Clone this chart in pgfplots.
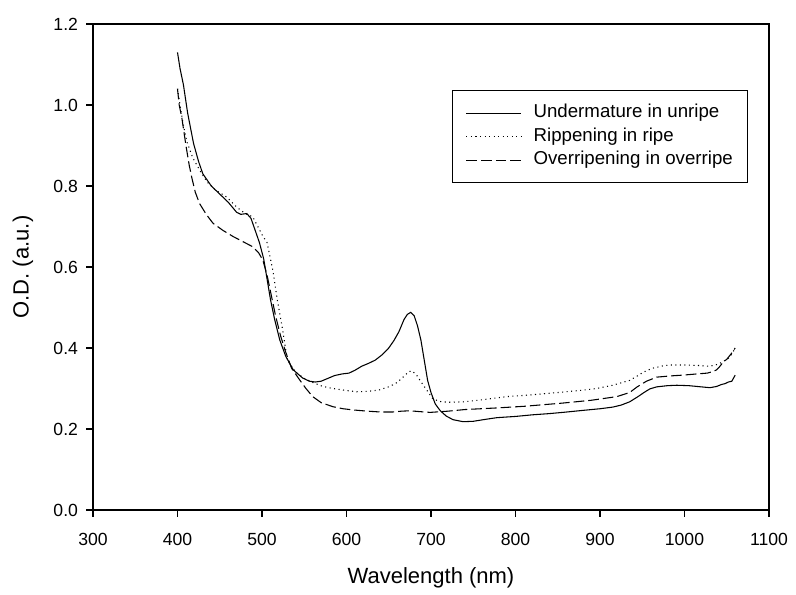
\documentclass[border=0pt]{standalone}
\usepackage{fontspec}
\setmainfont{Liberation Sans}
\usepackage{pgfplots}
\pgfplotsset{compat=1.18}

% 1 px of the reference = 0.75pt
\begin{document}
\begin{tikzpicture}
\useasboundingbox (0pt,0pt) rectangle (597pt,446.25pt);
\begin{axis}[
  at={(69.75pt,63.75pt)}, anchor=south west,
  scale only axis, width=507pt, height=364.5pt,
  xmin=300, xmax=1100, ymin=0, ymax=1.2,
  xtick={300,400,...,1100}, ytick={0,0.2,...,1.2},
  axis line style={line width=0.9pt},
  tick style={line width=0.8pt, black},
  tick align=outside, major tick length=5.25pt,
  xtick pos=bottom, ytick pos=left,
  /pgf/number format/assume math mode=true,
  /pgf/number format/1000 sep={},
  yticklabel style={/pgf/number format/fixed, /pgf/number format/precision=1,
    /pgf/number format/fixed zerofill, xshift=-2.5pt},
  xticklabel style={yshift=-8.5pt},
  tick label style={font=\fontsize{13.2}{15}\selectfont},
  label style={font=\fontsize{16.5}{19}\selectfont},
  xlabel={Wavelength (nm)}, ylabel={O.D. (a.u.)},
  xlabel style={at={(axis description cs:0.5,-0.152)}, anchor=base},
  ylabel style={at={(axis description cs:-0.1036,0.5)}, anchor=center},
  legend style={at={(axis description cs:0.969,0.864)}, anchor=north east,
    draw=black, line width=0.8pt, font=\fontsize{14}{16}\selectfont,
    inner xsep=10pt, inner ysep=9.5pt, row sep=2.6pt, column sep=8pt,
    nodes={inner sep=1pt, text height=10pt, text depth=3pt}},
  legend cell align=left,
  legend image code/.code={\draw[#1] (0pt,0pt) -- (41pt,0pt);},
]
\addplot[black, line width=0.8pt] coordinates {
(400,1.13) (403,1.09) (407,1.05) (412,0.98) (419,0.905) (425,0.86) (430,0.83)
(440,0.80) (450,0.78) (460,0.76) (470,0.735) (475,0.73) (482,0.732) (487,0.72)
(492,0.69) (497,0.66) (502,0.62) (506,0.57) (510,0.52) (515,0.47) (521,0.42)
(528,0.38) (537,0.346) (548,0.326) (556,0.318) (563,0.316) (570,0.318)
(578,0.325) (586,0.332) (595,0.336) (603,0.338) (610,0.345) (618,0.355)
(626,0.362) (634,0.37) (642,0.383) (650,0.40) (656,0.418) (662,0.44)
(668,0.47) (672,0.483) (676,0.488) (680,0.48) (684,0.455) (688,0.42)
(692,0.37) (696,0.32) (700,0.29) (705,0.262) (711,0.245) (718,0.232)
(726,0.223) (738,0.218) (750,0.219) (765,0.224) (778,0.228) (800,0.231)
(820,0.235) (840,0.238) (856,0.241) (880,0.246) (900,0.250) (915,0.254)
(925,0.259) (935,0.267) (945,0.280) (952,0.290) (959,0.299) (967,0.304)
(980,0.307) (991,0.308) (1005,0.307) (1020,0.304) (1030,0.302) (1038,0.305)
(1044,0.310) (1048,0.312) (1052,0.316) (1056,0.318) (1060,0.333)};
\addlegendentry{Undermature in unripe}
\addplot[black, line width=0.8pt, dash pattern=on 0.8pt off 2.6pt] coordinates {
(400,1.04) (403,1.0) (407,0.95) (411,0.91) (418,0.87) (426,0.84) (435,0.81)
(445,0.79) (458,0.773) (470,0.748) (480,0.732) (489,0.724) (495,0.70)
(500,0.68) (506,0.66) (513,0.59) (518,0.52) (524,0.45) (530,0.37) (540,0.34)
(550,0.325) (560,0.315) (572,0.305) (584,0.30) (600,0.295) (612,0.292)
(625,0.293) (638,0.296) (651,0.305) (660,0.315) (668,0.33) (674,0.342)
(678,0.343) (683,0.333) (687,0.32) (692,0.305) (697,0.29) (702,0.275)
(710,0.268) (720,0.266) (738,0.267) (760,0.272) (790,0.28) (817,0.284)
(850,0.29) (880,0.296) (896,0.30) (915,0.308) (935,0.32) (945,0.332)
(951,0.34) (962,0.35) (975,0.356) (983,0.358) (1000,0.358) (1015,0.357)
(1030,0.355) (1040,0.36) (1047,0.368) (1052,0.375) (1056,0.385) (1060,0.40)};
\addlegendentry{Rippening in ripe}
\addplot[black, line width=0.8pt, dash pattern=on 8pt off 3pt] coordinates {
(400,1.04) (402,1.0) (405,0.97) (410,0.9) (414,0.85) (417,0.82) (421,0.785)
(426,0.757) (434,0.73) (442,0.708) (454,0.69) (466,0.675) (478,0.662)
(489,0.65) (496,0.635) (501,0.617) (506,0.58) (511,0.53) (516,0.48)
(522,0.43) (528,0.39) (535,0.35) (545,0.32) (552,0.30) (560,0.28)
(570,0.265) (584,0.255) (596,0.25) (608,0.247) (625,0.244) (640,0.242)
(655,0.242) (665,0.244) (675,0.245) (686,0.243) (699,0.241) (720,0.244)
(740,0.248) (778,0.252) (810,0.256) (856,0.264) (890,0.271) (920,0.28)
(935,0.29) (944,0.304) (955,0.318) (967,0.328) (983,0.331) (998,0.333)
(1015,0.336) (1027,0.338) (1034,0.342) (1038,0.346) (1042,0.355)
(1046,0.366) (1050,0.372) (1055,0.385) (1060,0.40)};
\addlegendentry{Overripening in overripe}
\end{axis}
\end{tikzpicture}
\end{document}
